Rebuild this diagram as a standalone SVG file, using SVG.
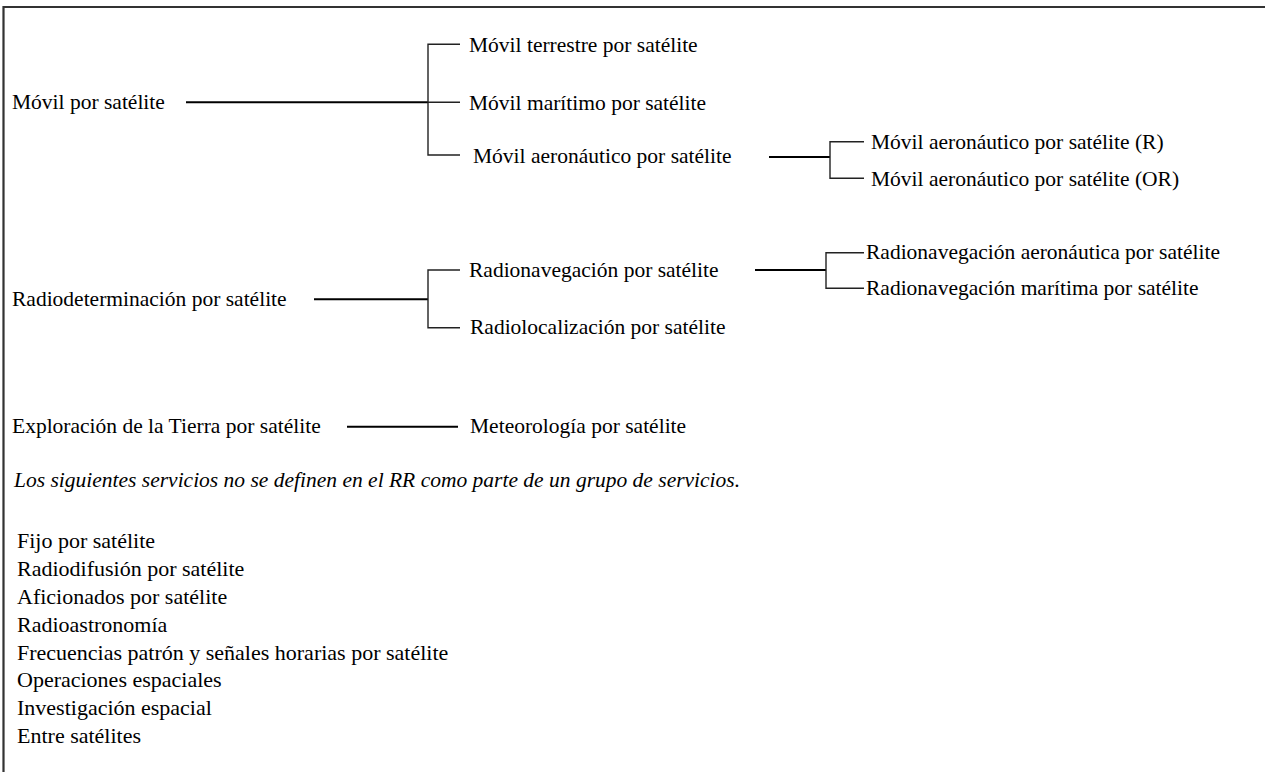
<svg xmlns="http://www.w3.org/2000/svg" width="1265" height="772" viewBox="0 0 1265 772">
<style>
text{font-family:'Liberation Serif','Times New Roman','DejaVu Serif',serif;font-size:21.5px;fill:#000}
.it{font-style:italic}
.ls{font-size:22px}
.main{stroke:#000;stroke-width:2;fill:none}
.br{stroke:#222;stroke-width:1.4;fill:none}
.frame{stroke:#333;stroke-width:2.2;fill:none}
</style>
<rect width="1265" height="772" fill="#fff"/>
<path class="frame" d="M3.5,772 V7 H1265"/>
<g id="connectors">
<path class="main" d="M186,102.3 H428"/>
<path class="br" d="M460,44.3 H428 V155 H460 M428,102.3 H460"/>
<path class="main" d="M769,157 H830"/>
<path class="br" d="M864,141.7 H830 V178.3 H864"/>
<path class="main" d="M314,299.3 H428"/>
<path class="br" d="M460,270 H428 V327.7 H460"/>
<path class="main" d="M755,270 H826"/>
<path class="br" d="M864,252.7 H826 V288.3 H864"/>
<path class="main" d="M347,426.7 H458"/>
</g>
<g id="movil-sat"><text x="12" y="108.5">Móvil por satélite</text></g>
<g id="movil-terrestre"><text x="469" y="51.5">Móvil terrestre por satélite</text></g>
<g id="movil-maritimo"><text x="469" y="109.5">Móvil marítimo por satélite</text></g>
<g id="movil-aero"><text x="473" y="162.5">Móvil aeronáutico por satélite</text></g>
<g id="movil-aero-r"><text x="871" y="149">Móvil aeronáutico por satélite (R)</text></g>
<g id="movil-aero-or"><text x="871" y="185.5">Móvil aeronáutico por satélite (OR)</text></g>
<g id="radiodet"><text x="12" y="305.5">Radiodeterminación por satélite</text></g>
<g id="radionav"><text x="469" y="276.5">Radionavegación por satélite</text></g>
<g id="radioloc"><text x="470" y="334">Radiolocalización por satélite</text></g>
<g id="radionav-aero"><text x="866" y="259">Radionavegación aeronáutica por satélite</text></g>
<g id="radionav-mar"><text x="866" y="294.5">Radionavegación marítima por satélite</text></g>
<g id="exploracion"><text x="12" y="433">Exploración de la Tierra por satélite</text></g>
<g id="meteorologia"><text x="470" y="433">Meteorología por satélite</text></g>
<g id="nota"><text class="it" x="14" y="486.5">Los siguientes servicios no se definen en el RR como parte de un grupo de servicios.</text></g>
<g id="lista">
<text class="ls" x="17" y="548">Fijo por satélite</text>
<text class="ls" x="17" y="576">Radiodifusión por satélite</text>
<text class="ls" x="17" y="604">Aficionados por satélite</text>
<text class="ls" x="17" y="631.5">Radioastronomía</text>
<text class="ls" x="17" y="659.5">Frecuencias patrón y señales horarias por satélite</text>
<text class="ls" x="17" y="687">Operaciones espaciales</text>
<text class="ls" x="17" y="715">Investigación espacial</text>
<text class="ls" x="17" y="742.5">Entre satélites</text>
</g>
</svg>
